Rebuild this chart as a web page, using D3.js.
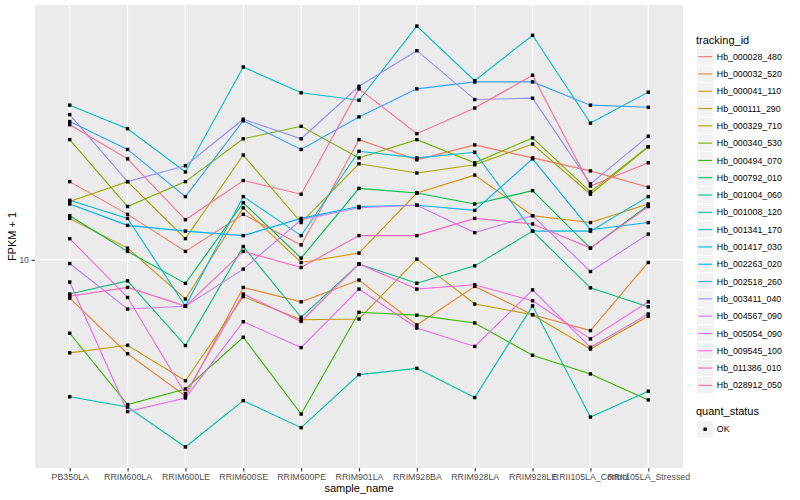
<!DOCTYPE html>
<html>
<head>
<meta charset="utf-8">
<script src="https://cdn.jsdelivr.net/npm/d3@7"></script>
<style>
  body { margin: 0; background: #fff; }
  text { font-family: "Liberation Sans", Arial, Helvetica, sans-serif; }
</style>
</head>
<body>
<svg id="chart"></svg>
<script>
// samples on the x axis
const samples = [
  "PB350LA", "RRIM600LA", "RRIM600LE", "RRIM600SE", "RRIM600PE", "RRIM901LA",
  "RRIM928BA", "RRIM928LA", "RRIM928LE", "RRII105LA_Control", "RRII105LA_Stressed"
];

const trackingIds = [
  "Hb_000028_480", "Hb_000032_520", "Hb_000041_110", "Hb_000111_290", "Hb_000329_710",
  "Hb_000340_530", "Hb_000494_070", "Hb_000792_010", "Hb_001004_060", "Hb_001008_120",
  "Hb_001341_170", "Hb_001417_030", "Hb_002263_020", "Hb_002518_260", "Hb_003411_040",
  "Hb_004567_090", "Hb_005054_090", "Hb_009545_100", "Hb_011386_010", "Hb_028912_050"
];

// FPKM + 1, one value per sample
const hb_000028_480 = [15.7, 13.0, 10.5, 13.0, 10.9, 20.0, 17.8, 19.4, 18.0, 16.7, 15.2];
const hb_000032_520 = [8.02, 5.82, 4.56, 8.53, 7.85, 8.90, 6.87, 8.58, 7.29, 6.65, 9.85];
const hb_000041_110 = [12.7, 10.7, 7.98, 13.5, 9.85, 10.4, 14.7, 16.3, 12.9, 12.4, 13.8];
const hb_000111_290 = [5.85, 6.11, 4.98, 8.09, 7.08, 7.11, 10.04, 7.75, 7.29, 5.98, 7.22];
const hb_000329_710 = [14.0, 15.7, 11.3, 18.3, 12.4, 17.4, 16.5, 17.3, 19.5, 14.6, 19.2];
const hb_000340_530 = [20.0, 13.6, 15.7, 20.1, 21.6, 18.0, 20.0, 17.5, 20.2, 14.8, 19.2];
const hb_000494_070 = [6.55, 4.34, 4.75, 6.40, 4.11, 7.39, 7.27, 6.95, 5.77, 5.18, 4.46];
const hb_000792_010 = [12.9, 10.5, 8.73, 13.9, 10.1, 15.1, 14.7, 13.8, 14.9, 10.7, 13.7];
const hb_001004_060 = [8.21, 8.86, 6.10, 10.8, 7.18, 9.76, 8.74, 9.66, 11.8, 8.51, 7.63];
const hb_001008_120 = [4.54, 4.28, 3.40, 4.44, 3.80, 5.16, 5.35, 4.52, 7.67, 4.04, 4.69];
const hb_001341_170 = [24.4, 21.3, 16.6, 30.4, 26.2, 25.1, 38.5, 28.1, 36.5, 22.0, 26.3];
const hb_001417_030 = [14.1, 12.7, 7.66, 14.4, 11.5, 18.7, 18.0, 18.6, 11.8, 11.8, 14.4];
const hb_002263_020 = [13.8, 12.2, 11.8, 11.5, 12.7, 13.6, 13.7, 13.3, 17.9, 11.9, 12.4];
const hb_002518_260 = [22.2, 18.9, 14.4, 22.3, 18.9, 22.8, 26.8, 27.9, 27.9, 24.4, 24.1];
const hb_003411_040 = [23.1, 15.7, 17.2, 22.5, 20.1, 27.2, 33.4, 25.2, 25.4, 15.5, 20.4];
const hb_004567_090 = [9.79, 7.53, 7.65, 9.48, 12.6, 13.5, 13.7, 11.7, 12.9, 9.35, 11.6];
const hb_005054_090 = [8.80, 4.17, 4.51, 7.00, 6.03, 8.45, 6.75, 6.07, 8.41, 6.04, 7.32];
const hb_009545_100 = [11.3, 8.05, 4.62, 8.21, 7.01, 9.77, 8.45, 8.66, 7.90, 6.34, 7.85];
const hb_011386_010 = [8.11, 8.53, 7.66, 10.5, 9.57, 11.5, 11.5, 12.7, 12.3, 10.7, 13.6];
const hb_028912_050 = [21.8, 17.9, 12.6, 15.8, 14.6, 26.8, 20.7, 24.0, 29.0, 15.3, 17.5];

const yTicks = [10];
const quantStatus = ["OK"];

// ggplot default hue palette for 20 groups
const palette = [
  "#F8766D", "#EA8331", "#D89000", "#C09B00", "#A3A500", "#7CAE00", "#39B600",
  "#00BB4E", "#00BF7D", "#00C1A3", "#00BFC4", "#00BAE0", "#00B0F6", "#35A2FF",
  "#9590FF", "#C77CFF", "#E76BF3", "#FA62DB", "#FF62BC", "#FF6C91"
];

document.addEventListener("DOMContentLoaded", function () {
  const width = 800;
  const height = 500;
  const panel = { left: 35, right: 683, top: 5, bottom: 468 };

  const values = [
    hb_000028_480, hb_000032_520, hb_000041_110, hb_000111_290, hb_000329_710,
    hb_000340_530, hb_000494_070, hb_000792_010, hb_001004_060, hb_001008_120,
    hb_001341_170, hb_001417_030, hb_002263_020, hb_002518_260, hb_003411_040,
    hb_004567_090, hb_005054_090, hb_009545_100, hb_011386_010, hb_028912_050
  ];

  const series = trackingIds.map((id, i) => ({
    id: id,
    colour: palette[i],
    points: samples.map((s, j) => ({ sample: s, value: values[i][j] }))
  }));

  const svg = d3.select("#chart").attr("width", width).attr("height", height);

  const x = d3
    .scalePoint()
    .domain(samples)
    .range([panel.left, panel.right])
    .padding(0.6);

  // log scale with ggplot's 5% expansion in log space
  const all = values.flat();
  const lo = Math.log10(d3.min(all));
  const hi = Math.log10(d3.max(all));
  const pad = (hi - lo) * 0.05;
  const y = d3
    .scaleLog()
    .domain([Math.pow(10, lo - pad), Math.pow(10, hi + pad)])
    .range([panel.bottom, panel.top]);

  // panel background and grid
  svg
    .append("rect")
    .attr("x", panel.left)
    .attr("y", panel.top)
    .attr("width", panel.right - panel.left)
    .attr("height", panel.bottom - panel.top)
    .attr("fill", "#EBEBEB");

  const grid = svg.append("g").attr("stroke", "#fff").attr("stroke-width", 1.1);
  grid
    .selectAll("line.gx")
    .data(samples)
    .join("line")
    .attr("class", "gx")
    .attr("x1", (d) => x(d))
    .attr("x2", (d) => x(d))
    .attr("y1", panel.top)
    .attr("y2", panel.bottom);
  grid
    .selectAll("line.gy")
    .data(yTicks)
    .join("line")
    .attr("class", "gy")
    .attr("x1", panel.left)
    .attr("x2", panel.right)
    .attr("y1", (d) => y(d))
    .attr("y2", (d) => y(d));

  // lines
  const line = d3
    .line()
    .x((d) => x(d.sample))
    .y((d) => y(d.value));

  svg
    .append("g")
    .selectAll("path")
    .data(series)
    .join("path")
    .attr("d", (d) => line(d.points))
    .attr("fill", "none")
    .attr("stroke", (d) => d.colour)
    .attr("stroke-width", 1.1);

  // points (shape 15)
  const s = 3.4;
  svg
    .append("g")
    .selectAll("rect")
    .data(series.flatMap((d) => d.points))
    .join("rect")
    .attr("x", (d) => x(d.sample) - s / 2)
    .attr("y", (d) => y(d.value) - s / 2)
    .attr("width", s)
    .attr("height", s)
    .attr("fill", "#000");

  // axes
  const xAxis = svg
    .append("g")
    .attr("transform", `translate(0,${panel.bottom})`)
    .call(d3.axisBottom(x).tickSize(3.5).tickPadding(2.5));
  const yAxis = svg
    .append("g")
    .attr("transform", `translate(${panel.left},0)`)
    .call(
      d3
        .axisLeft(y)
        .tickValues(yTicks)
        .tickFormat(d3.format("d"))
        .tickSize(3.5)
        .tickPadding(2.5)
    );
  [xAxis, yAxis].forEach((a) => {
    a.select(".domain").remove();
    a.selectAll(".tick line").attr("stroke", "#333333").attr("stroke-width", 1.1);
    a.selectAll(".tick text")
      .attr("fill", "#4D4D4D")
      .style("font-size", "8.8px")
      .style("font-family", '"Liberation Sans", Arial, sans-serif');
  });

  svg
    .append("text")
    .attr("x", (panel.left + panel.right) / 2)
    .attr("y", 492)
    .attr("text-anchor", "middle")
    .style("font-size", "11px")
    .text("sample_name");

  svg
    .append("text")
    .attr("transform", `translate(16,${(panel.top + panel.bottom) / 2}) rotate(-90)`)
    .attr("text-anchor", "middle")
    .style("font-size", "11px")
    .text("FPKM + 1");

  // legend: tracking_id
  const key = 17.3;
  const legX = 696.5;
  const legTop = 48;

  svg
    .append("text")
    .attr("x", 696)
    .attr("y", 43.5)
    .style("font-size", "11px")
    .text("tracking_id");

  const items = svg
    .append("g")
    .selectAll("g")
    .data(series)
    .join("g")
    .attr("transform", (d, i) => `translate(${legX},${legTop + i * key})`);

  items
    .append("rect")
    .attr("width", key)
    .attr("height", key)
    .attr("fill", "#F2F2F2")
    .attr("stroke", "#fff")
    .attr("stroke-width", 1);

  items
    .append("line")
    .attr("x1", 1.7)
    .attr("x2", key - 1.7)
    .attr("y1", key / 2)
    .attr("y2", key / 2)
    .attr("stroke", (d) => d.colour)
    .attr("stroke-width", 1.1);

  items
    .append("text")
    .attr("x", key + 3)
    .attr("y", key / 2)
    .attr("dy", "0.35em")
    .style("font-size", "8.8px")
    .text((d) => d.id);

  // legend: quant_status
  svg
    .append("text")
    .attr("x", 696)
    .attr("y", 415)
    .style("font-size", "11px")
    .text("quant_status");

  const q = svg
    .append("g")
    .selectAll("g")
    .data(quantStatus)
    .join("g")
    .attr("transform", (d, i) => `translate(${legX},${420.6 + i * key})`);

  q.append("rect")
    .attr("width", key)
    .attr("height", key)
    .attr("fill", "#F2F2F2")
    .attr("stroke", "#fff")
    .attr("stroke-width", 1);

  q.append("rect")
    .attr("x", key / 2 - s / 2)
    .attr("y", key / 2 - s / 2)
    .attr("width", s)
    .attr("height", s)
    .attr("fill", "#000");

  q.append("text")
    .attr("x", key + 3)
    .attr("y", key / 2)
    .attr("dy", "0.35em")
    .style("font-size", "8.8px")
    .text((d) => d);
});
</script>
</body>
</html>
